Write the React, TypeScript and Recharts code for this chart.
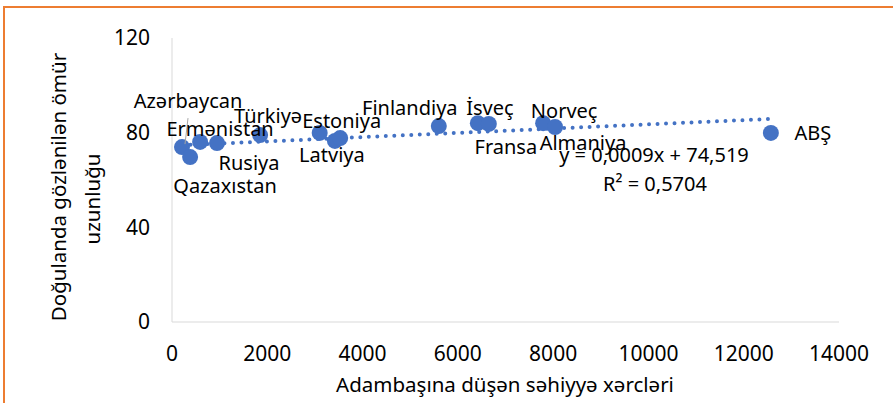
import { ReferenceLine, Scatter, ScatterChart, XAxis, YAxis } from "recharts"

const countries = [
  "Azərbaycan",
  "Qazaxıstan",
  "Ermənistan",
  "Rusiya",
  "Türkiyə",
  "Estoniya",
  "Latviya",
  "",
  "Finlandiya",
  "İsveç",
  "Fransa",
  "Norveç",
  "Almaniya",
  "ABŞ",
]
const spending = [210, 380, 590, 945, 1850, 3100, 3420, 3530, 5600, 6420, 6650, 7790, 8040, 12570]
const lifeExpectancy = [73.9, 69.7, 76.1, 75.6, 79.0, 79.9, 76.5, 77.7, 82.8, 84.0, 83.7, 84.0, 82.4, 79.9]

const xTicks = [0, 2000, 4000, 6000, 8000, 10000, 12000, 14000]
const yTicks = [0, 40, 80, 120]

const trendSlope = 0.0009
const trendIntercept = 74.519
const equationText = "y = 0,0009x + 74,519"
const r2Text = "R² = 0,5704"

const xTitle = "Adambaşına düşən səhiyyə xərcləri"
const yTitle = ["Doğulanda gözlənilən ömür", "uzunluğu"]

// label placement relative to the marker centre (Excel labels were dragged by hand)
const labelOffsets: Record<string, [number, number]> = {
  Azərbaycan: [6, -47],
  Qazaxıstan: [35, 28],
  Ermənistan: [20, -13],
  Rusiya: [32, 19],
  Türkiyə: [8, -20],
  Estoniya: [22, -12],
  Latviya: [-3, 14],
  Finlandiya: [-29, -19],
  İsveç: [12, -16],
  Fransa: [17, 23],
  Norveç: [21, -13],
  Almaniya: [28, 16],
  ABŞ: [42, 0],
}

const points = countries.map((name, i) => ({
  name,
  x: spending[i],
  y: lifeExpectancy[i],
}))

const minX = Math.min(...spending)
const maxX = Math.max(...spending)
const trend = [
  { x: minX, y: trendSlope * minX + trendIntercept },
  { x: maxX, y: trendSlope * maxX + trendIntercept },
]

const blue = "#4472C4"
const axisGray = "#D9D9D9"
const tickFont = "'Liberation Sans Narrow', 'Noto Sans', sans-serif"

function Dot(props: any) {
  const { cx, cy } = props
  if (cx == null || cy == null) return null
  return <circle cx={cx} cy={cy} r={8} fill={blue} />
}

function DotLabel(props: any) {
  const { cx, cy, payload } = props
  if (cx == null || cy == null || !payload?.name) return <g />
  const [dx, dy] = labelOffsets[payload.name] ?? [0, 0]
  return (
    <g>
      {payload.name === "Azərbaycan" && (
        <line x1={cx + 6} y1={cy - 29} x2={cx + 3} y2={cy - 3} stroke="#A6A6A6" strokeWidth={1} />
      )}
      <text
        x={cx + dx}
        y={cy + dy}
        textAnchor="middle"
        dominantBaseline="central"
        fontSize={20}
        fill="#000"
      >
        {payload.name}
      </text>
    </g>
  )
}

export default function App() {
  return (
    <div
      style={{
        position: "absolute",
        top: 0,
        left: 0,
        width: 893,
        height: 403,
        background: "#fff",
        fontFamily: "'Noto Sans', sans-serif",
      }}
    >
      <div
        style={{
          position: "absolute",
          top: 6,
          left: 3,
          right: 0,
          bottom: 0,
          borderTop: "2px solid #ED7D31",
          borderLeft: "2.5px solid #ED7D31",
        }}
      />
      <ScatterChart width={893} height={403} margin={{ top: 38, right: 54, bottom: 51, left: 112 }}>
        <XAxis
          type="number"
          dataKey="x"
          domain={[0, 14000]}
          ticks={xTicks}
          interval={0}
          stroke={axisGray}
          tickLine={false}
          tickSize={0}
          tickMargin={24}
          height={30}
          tick={{ fill: "#000", fontSize: 21, fontFamily: tickFont }}
        />
        <YAxis
          type="number"
          dataKey="y"
          domain={[0, 120]}
          ticks={yTicks}
          interval={0}
          stroke={axisGray}
          tickLine={false}
          tickSize={0}
          tickMargin={22}
          width={60}
          tick={{ fill: "#000", fontSize: 21, fontFamily: tickFont }}
        />
        <ReferenceLine
          segment={trend}
          stroke={blue}
          strokeWidth={4}
          strokeDasharray="0 8.5"
          strokeLinecap="round"
          ifOverflow="visible"
        />
        <Scatter data={points} shape={<Dot />} isAnimationActive={false} />
        <Scatter data={points} shape={<DotLabel />} isAnimationActive={false} />
      </ScatterChart>
      <svg
        width={893}
        height={403}
        style={{ position: "absolute", top: 0, left: 0, pointerEvents: "none" }}
      >
        <text x={505} y={384} textAnchor="middle" dominantBaseline="central" fontSize={20.5}>
          {xTitle}
        </text>
        <g transform="translate(58 187) rotate(-90)">
          <text x={0} y={0} textAnchor="middle" dominantBaseline="central" fontSize={20.5}>
            {yTitle[0]}
          </text>
        </g>
        <g transform="translate(92 199) rotate(-90)">
          <text x={0} y={0} textAnchor="middle" dominantBaseline="central" fontSize={20.5}>
            {yTitle[1]}
          </text>
        </g>
        <text x={654} y={154} textAnchor="middle" dominantBaseline="central" fontSize={20}>
          {equationText}
        </text>
        <text x={655} y={183} textAnchor="middle" dominantBaseline="central" fontSize={20}>
          {r2Text}
        </text>
      </svg>
    </div>
  )
}
